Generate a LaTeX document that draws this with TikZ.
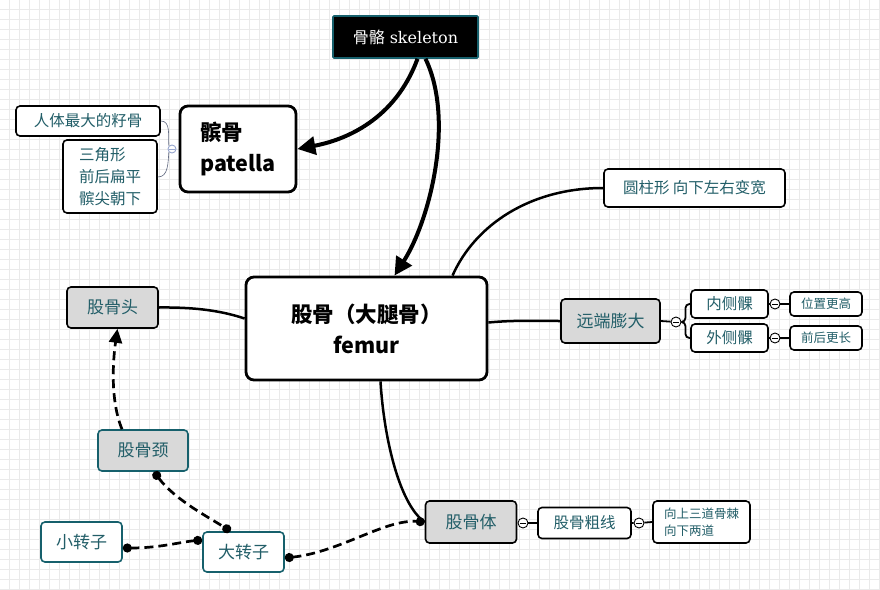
\documentclass[tikz,border=0pt]{standalone}
\usepackage{fontspec}
\usetikzlibrary{arrows.meta}
\newfontfamily\cjk{Noto Sans CJK SC}
\newfontfamily\skelfont{DejaVu Serif}
\definecolor{tealtext}{RGB}{34,94,104}
\definecolor{tealborder}{RGB}{22,96,108}
\definecolor{boxgray}{RGB}{217,217,217}
\definecolor{gridgray}{RGB}{234,234,234}
\definecolor{togglegray}{RGB}{150,165,205}
\tikzset{
    leafbox/.style={draw=black, line width=1.6pt, rounded corners=4pt, fill=white, text=tealtext, inner sep=0pt, align=center, font={\cjk\fontsize{15.5}{19}\selectfont}},
    graybox/.style={leafbox, fill=boxgray, font={\cjk\fontsize{17}{20}\selectfont}},
    tealbox/.style={leafbox, draw=tealborder, font={\cjk\fontsize{17}{20}\selectfont}},
    smallbox/.style={leafbox, font={\cjk\fontsize{12.5}{17}\selectfont}},
    mainbox/.style={draw=black, line width=2.8pt, rounded corners=8pt, fill=white, inner sep=0pt, font={\cjk\bfseries\fontsize{21.5}{31}\selectfont}},
    toggle/.style={circle, draw=black, line width=0.9pt, fill=white, minimum size=10pt, inner sep=0pt,
        path picture={\draw[line width=0.7pt] ([xshift=-3pt]path picture bounding box.center) -- ([xshift=3pt]path picture bounding box.center);}},
    gridline/.style={draw=gridgray, line width=0.8pt},
    branch/.style={line width=2.5pt},
    linkline/.style={line width=2.7pt, dash pattern=on 9pt off 5pt},
    bigarrow/.style={line width=4pt, -{Triangle[length=18pt,width=18pt]}},
    dotends/.style={{Circle[length=9pt]}-{Circle[length=9pt]}}
}

\begin{document}
\begin{tikzpicture}[x=1pt, y=-1pt]
    \useasboundingbox (0,0) rectangle (880,589);
    \fill[white] (0,0) rectangle (880,589);
    % background grid
    \foreach \gx in {9,19,...,879} \draw[gridline] (\gx,0) -- (\gx,589);
    \foreach \gy in {9,19,...,589} \draw[gridline] (0,\gy) -- (880,\gy);

    \node[mainbox, fill=black, draw=tealborder, line width=1.6pt, rounded corners=1pt, text=white, font={\fontsize{16}{19}\selectfont}, minimum width=145pt, minimum height=42pt] (skeleton) at (405.5,37) {{\cjk 骨骼} {\skelfont skeleton}};
    \node[mainbox, align=left, minimum width=116pt, minimum height=86pt] (patella) at (238,149) {髌骨\\patella};
    \node[mainbox, align=center, minimum width=241pt, minimum height=103pt] (femur) at (366.5,328.5) {股骨（大腿骨）\\femur};

    % patella notes
    \node[leafbox, minimum width=144pt, minimum height=30pt] (seedbone) at (88,121) {人体最大的籽骨};
    \node[leafbox, align=left, font={\cjk\fontsize{15.5}{22}\selectfont}, minimum width=94pt, minimum height=73pt] (patshape) at (110,176.5) {三角形\\前后扁平\\髌尖朝下};
    \node[toggle, draw=togglegray, minimum size=8pt] (pattoggle) at (172,149) {};

    % proximal end
    \node[graybox, minimum width=91pt, minimum height=41pt] (femhead) at (112.5,307.5) {股骨头};
    \node[graybox, draw=tealborder, minimum width=90pt, minimum height=41pt] (femneck) at (143,450.5) {股骨颈};
    \node[tealbox, minimum width=81pt, minimum height=40pt] (greater) at (243.5,552) {大转子};
    \node[tealbox, minimum width=81pt, minimum height=40pt] (lesser) at (81.5,542) {小转子};

    % shaft
    \node[graybox, minimum width=91pt, minimum height=42pt] (femshaft) at (471,522) {股骨体};
    \node[toggle] (shafttoggle) at (523,523) {};
    \node[leafbox, minimum width=93pt, minimum height=31pt] (linea) at (584.5,523) {股骨粗线};
    \node[toggle] (lineatoggle) at (639,523) {};
    \node[smallbox, align=left, minimum width=97pt, minimum height=42pt] (ridges) at (701.5,522) {向上三道骨棘\\向下两道};
    \node[leafbox, minimum width=181pt, minimum height=38pt] (cylinder) at (694.5,188) {圆柱形 向下左右变宽};

    % distal end
    \node[graybox, minimum width=99pt, minimum height=44pt] (distal) at (610.5,321) {远端膨大};
    \node[toggle] (distaltoggle) at (676,322) {};
    \node[leafbox, minimum width=77pt, minimum height=28pt] (medcond) at (729.5,304) {内侧髁};
    \node[leafbox, minimum width=77pt, minimum height=28pt] (latcond) at (729.5,338) {外侧髁};
    \node[toggle] (medtoggle) at (775,304) {};
    \node[toggle] (lattoggle) at (775,338) {};
    \node[smallbox, minimum width=72pt, minimum height=24pt] (higher) at (826,304) {位置更高};
    \node[smallbox, minimum width=72pt, minimum height=24pt] (longer) at (826,338) {前后更长};

    % skeleton arrows
    \draw[bigarrow] ([xshift=12pt]skeleton.south) .. controls (395,120) and (345,140) .. (patella.east);
    \draw[bigarrow] ([xshift=20pt]skeleton.south) .. controls (455,120) and (430,220) .. ([xshift=28pt]femur.north);

    % femur branches
    \draw[branch] (femhead.east) .. controls (200,307) and (225,312) .. ([yshift=10pt]femur.west);
    \draw[branch] ([yshift=6pt]femur.east) .. controls (515,320) and (535,321) .. (distal.west);
    \draw[branch] ([xshift=86pt]femur.north) .. controls (475,225) and (530,188) .. (cylinder.west);
    \draw[branch] ([xshift=14pt]femur.south) .. controls (384,440) and (400,505) .. (femshaft.west);

    % notes brackets
    \draw[line width=0.6pt, togglegray!60!black] (seedbone.east) to[out=0, in=95] (pattoggle.north west);
    \draw[line width=0.6pt, togglegray!60!black] ([yshift=-0.5pt]patshape.east) to[out=0, in=-95] (pattoggle.south west);
    \draw[line width=1.8pt] (distal.east) -- (distaltoggle);
    \draw[line width=1.8pt, rounded corners=4pt] (distaltoggle.east) -- ++(4,0) |- (medcond.west);
    \draw[line width=1.8pt, rounded corners=4pt] (distaltoggle.east) -- ++(4,0) |- (latcond.west);
    \draw[line width=1.8pt] (medcond.east) -- (medtoggle) -- (higher.west);
    \draw[line width=1.8pt] (latcond.east) -- (lattoggle) -- (longer.west);
    \draw[line width=1.8pt] (shafttoggle) -- (linea.west);
    \draw[line width=1.8pt] (linea.east) -- (lineatoggle) -- (ridges.west);

    % dashed links
    \draw[linkline, -{Triangle[length=14pt,width=13pt]}] ([xshift=-21pt]femneck.north) .. controls (110,400) and (113,360) .. ([xshift=5pt]femhead.south);
    \draw[linkline, dotends] ([xshift=11pt]femneck.south) .. controls (175,500) and (210,518) .. ([xshift=-13pt]greater.north);
    \draw[linkline, dotends] ([yshift=-6pt]lesser.east) .. controls (160,548) and (180,542) .. ([yshift=12pt]greater.west);
    \draw[linkline, dotends] ([yshift=-6pt]greater.east) .. controls (340,552) and (385,519) .. (femshaft.west);
\end{tikzpicture}
\end{document}
